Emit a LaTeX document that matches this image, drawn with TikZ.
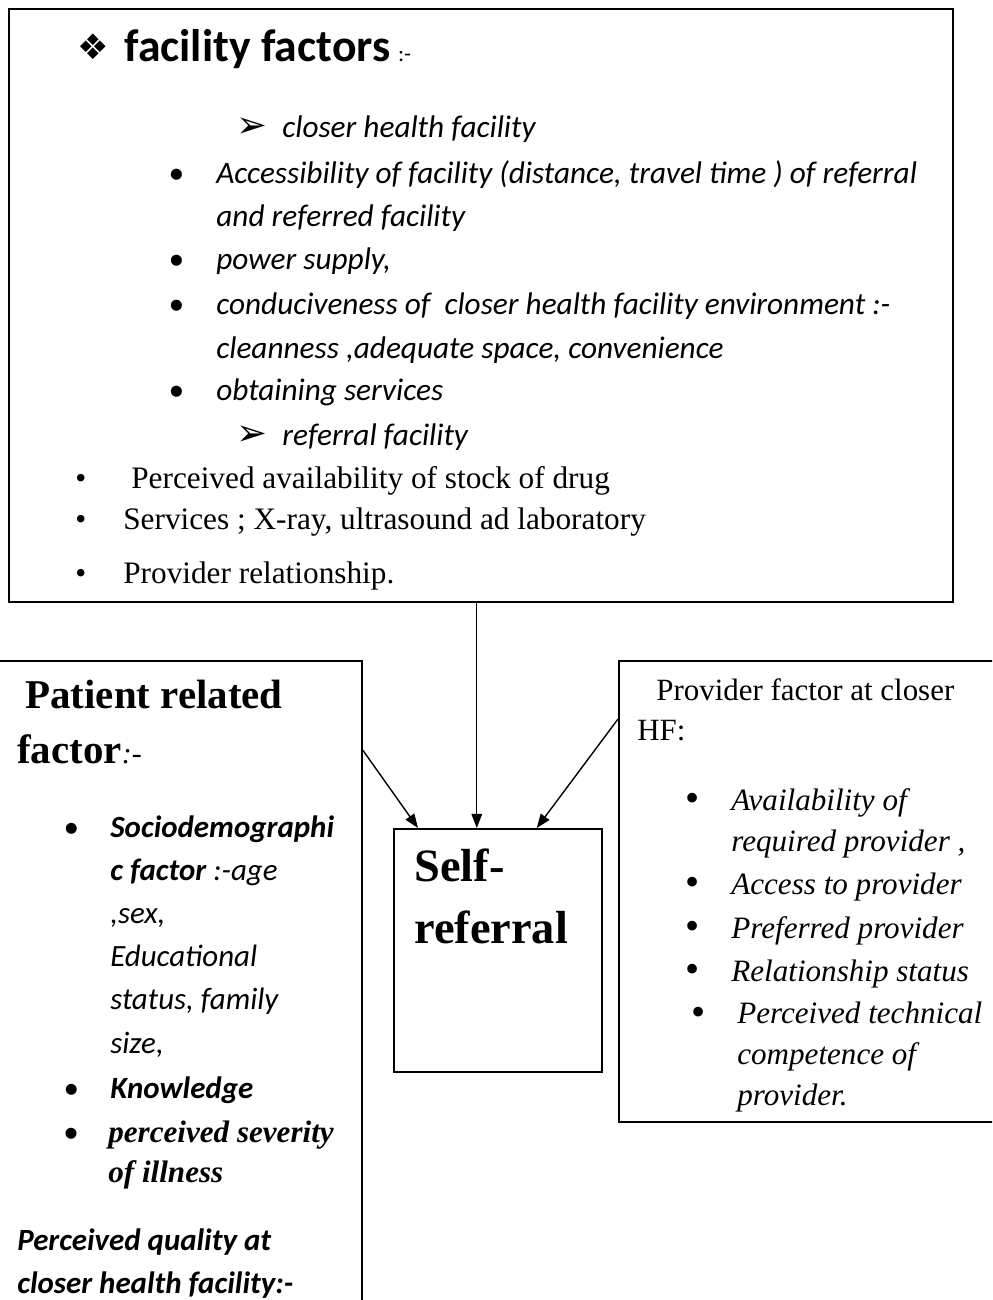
\documentclass[tikz,border=0pt]{standalone}
\usepackage{fontspec}
\setmainfont{Liberation Serif}
\newfontfamily\calibri{Carlito}
\newfontfamily\dingfont{DejaVu Sans}
\usetikzlibrary{arrows.meta}
\newcommand{\itm}[2]{\llap{\makebox[#1][l]{#2}}}
\newcommand{\bigbul}{{\upshape\fontsize{23}{23}\selectfont\raisebox{-0.04em}{\textbullet}}}
\newcommand{\arrbul}{{\dingfont\upshape\fontsize{21}{21}\selectfont ➢}}

\begin{document}
\begin{tikzpicture}[
x=0.02cm, y=-0.02cm,
box/.style={draw, line width=1pt, inner sep=0pt, anchor=north west},
cal/.style={anchor=base west, inner sep=0pt, align=left, font=\calibri\itshape\fontsize{17.8}{24.9}\selectfont},
calb/.style={cal, font=\calibri\bfseries\itshape\fontsize{17.6}{24.4}\selectfont},
tnr/.style={anchor=base west, inner sep=0pt, align=left, font=\fontsize{17.8}{24.6}\selectfont},
tnri/.style={tnr, font=\itshape\fontsize{17.7}{23.2}\selectfont},
head/.style={anchor=base west, inner sep=0pt, align=left, font=\bfseries\fontsize{23.3}{31}\selectfont},
arrow/.style={-{Triangle[length=8pt,width=6pt]}, line width=0.8pt}
]
\path[use as bounding box, clip] (0,0) rectangle (992,1300);

% boxes
\node[box, minimum width=18.88cm, minimum height=11.86cm] (fac) at (8,8) {};
\node[box, minimum width=7.42cm, minimum height=14cm] (pat) at (-10,660) {};
\node[box, minimum width=4.16cm, minimum height=4.86cm] (self) at (393,828) {};
\node[box, minimum width=8cm, minimum height=9.22cm] (prov) at (618,660) {};

% facility factors (multi-line nodes sit on their last line)
\node[head, font=\calibri\bfseries\fontsize{26}{30}\selectfont] (facT) at (124,62) {\itm{0.94cm}{\dingfont\mdseries\fontsize{20}{20}\selectfont\raisebox{0.08em}{❖}}facility factors\,{\mdseries\fontsize{13}{13}\selectfont :-}};
\node[cal] (f1) at (282,138) {\itm{0.92cm}{\arrbul}closer health facility};
\node[cal] (f2) at (216,227) {\itm{0.96cm}{\textbullet}Accessibility of facility (distance, travel time ) of referral\\and referred facility};
\node[cal] (f3) at (216,270) {\itm{0.96cm}{\textbullet}power supply,};
\node[cal] (f4) at (216,358) {\itm{0.96cm}{\textbullet}conduciveness of \ closer health facility environment :-\\cleanness ,adequate space, convenience};
\node[cal] (f5) at (216,400) {\itm{0.96cm}{\textbullet}obtaining services};
\node[cal] (f6) at (282,445) {\itm{0.92cm}{\arrbul}referral facility};
\node[tnr] (f7) at (131,488) {\itm{1.12cm}{\textbullet}Perceived availability of stock of drug};
\node[tnr] (f8) at (123,529) {\itm{0.96cm}{\textbullet}Services ; X-ray, ultrasound ad laboratory};
\node[tnr] (f9) at (123,583) {\itm{0.96cm}{\textbullet}Provider relationship.};

% patient related factor
\node[head] (patT) at (25,708) {Patient related};
\node[head] (patT2) at (17,763) {factor{\mdseries\itshape\fontsize{17}{17}\selectfont :-}};
\node[cal, font=\calibri\itshape\fontsize{17.6}{24.5}\selectfont] (p1) at (110,1053) {\itm{0.94cm}{\textbullet}\textbf{Sociodemographi}\\\textbf{c factor} :-age\\,sex,\\Educational\\status, family\\size,};
\node[calb] (p2) at (110,1098) {\itm{0.94cm}{\mdseries\textbullet}Knowledge};
\node[tnri, font=\bfseries\itshape\fontsize{17.7}{22.7}\selectfont] (p3) at (108,1182) {\itm{0.9cm}{\calibri\mdseries\upshape\textbullet}perceived severity\\of illness};
\node[calb] (p4) at (17,1293) {Perceived quality at\\closer health facility:-};

% self-referral
\node[head, font=\bfseries\fontsize{26.4}{35.1}\selectfont] (selfT) at (414,943) {Self-\\referral};

% provider factor
\node[tnr, font=\fontsize{17.6}{22.7}\selectfont] (provT) at (637,740) {\hspace*{0.38cm}Provider factor at closer\\HF:};
\node[tnri] (r1) at (731,851) {\itm{0.92cm}{\bigbul}Availability of\\required provider ,};
\node[tnri] (r2) at (731,894) {\itm{0.92cm}{\bigbul}Access to provider};
\node[tnri] (r3) at (731,938) {\itm{0.92cm}{\bigbul}Preferred provider};
\node[tnri] (r4) at (731,981) {\itm{0.92cm}{\bigbul}Relationship status};
\node[tnri] (r5) at (737,1105) {\itm{0.92cm}{\bigbul}Perceived technical\\competence of\\provider.};

% connectors
\draw[arrow] ([yshift=-1.8cm]pat.north east) -- ([xshift=0.5cm]self.north west);
\draw[arrow] ([xshift=-0.08cm]fac.south) -- ([xshift=-0.08cm]fac.south |- self.north);
\draw[arrow] ([yshift=-1.18cm]prov.north west) -- ([xshift=-1.32cm]self.north east);
\end{tikzpicture}
\end{document}
